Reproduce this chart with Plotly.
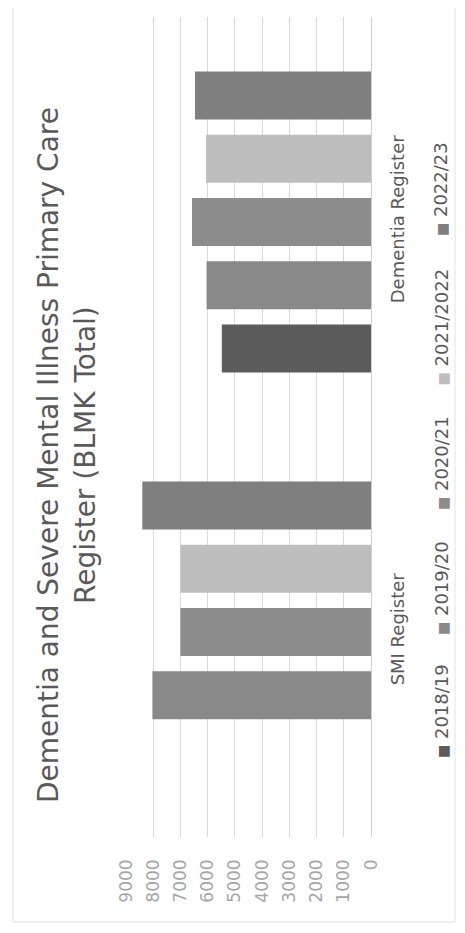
import plotly.graph_objects as go

categories = ["SMI Register", "Dementia Register"]
series_names = ["2018/19", "2019/20", "2020/21", "2021/2022", "2022/23"]
smi_values = [None, 8030, 7000, 7000, 8400]
dementia_values = [5480, 6040, 6575, 6060, 6465]
series_colors = ["#5c5c5c", "#898989", "#8c8c8c", "#bebebe", "#7f7f7f"]
tick_values = [0, 1000, 2000, 3000, 4000, 5000, 6000, 7000, 8000, 9000]
tick_labels = ["0", "1000", "2000", "3000", "4000", "5000", "6000", "7000", "8000", "9000"]
title_text = "Dementia and Severe Mental Illness Primary Care<br>Register (BLMK Total)"

FONT = "DejaVu Sans"

fig = go.Figure()
for i, name in enumerate(series_names):
    fig.add_trace(go.Bar(
        y=categories,
        x=[smi_values[i], dementia_values[i]],
        name=name,
        orientation="h",
        marker=dict(color=series_colors[i], line=dict(width=0)),
        showlegend=False,
    ))

# rotated legend built from annotations (chart is rotated 90 degrees)
legend_y = [0.0939, 0.2439, 0.3963, 0.5488, 0.7305]
annotations = []
for i, name in enumerate(series_names):
    annotations.append(dict(
        xref="paper", yref="paper", x=1.2857, y=legend_y[i],
        xanchor="center", yanchor="bottom", textangle=-90, showarrow=False,
        text=f'<span style="color:{series_colors[i]};font-size:14px">■</span> {name}',
        font=dict(family=FONT, size=18, color="#595959"),
    ))

annotations.append(dict(
    xref="paper", yref="paper", x=-0.24, y=0.466,
    xanchor="center", yanchor="middle", textangle=-90, showarrow=False,
    text=title_text, align="center",
    font=dict(family=FONT, size=28, color="#595959"),
))

fig.update_layout(
    width=457, height=925,
    margin=dict(l=118, r=94, t=9, b=96, autoexpand=False),
    paper_bgcolor="white", plot_bgcolor="white",
    barmode="group", bargap=0.229, bargroupgap=0.24,
    annotations=annotations,
    shapes=[dict(type="rect", xref="paper", yref="paper",
                 x0=-0.461, x1=1.343, y0=-0.1037, y1=1.03,
                 line=dict(color="#e3e3e3", width=1), fillcolor="rgba(0,0,0,0)",
                 layer="below")],
    xaxis=dict(
        range=[9000, 0], tickvals=tick_values, ticktext=tick_labels,
        tickangle=-90, showgrid=True, gridcolor="#d9d9d9", gridwidth=1,
        zeroline=True, zerolinecolor="#d0d0d0", zerolinewidth=1,
        showline=False, ticks="", ticklabelstandoff=18, automargin=False,
        tickfont=dict(family=FONT, size=17, color="#a6a6a6"),
    ),
    yaxis=dict(
        side="right", tickangle=-90, showgrid=False, zeroline=False,
        showline=False, ticks="", ticklabelstandoff=14, automargin=False,
        tickfont=dict(family=FONT, size=18, color="#595959"),
    ),
)

fig.write_html("out.html")
